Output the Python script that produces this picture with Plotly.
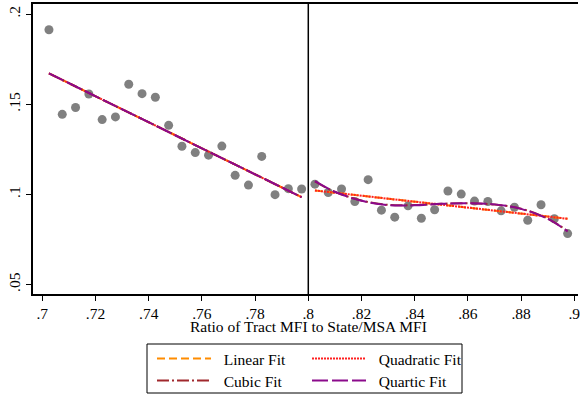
import plotly.graph_objects as go

# Bin centers (ratio of tract MFI to state/MSA MFI) and binned means
x_left = [0.7025, 0.7075, 0.7125, 0.7175, 0.7225, 0.7275, 0.7325, 0.7375, 0.7425, 0.7475,
          0.7525, 0.7575, 0.7625, 0.7675, 0.7725, 0.7775, 0.7825, 0.7875, 0.7925, 0.7975]
y_left = [0.1913, 0.1444, 0.1482, 0.1557, 0.1415, 0.1430, 0.1611, 0.1559, 0.1539, 0.1383,
          0.1267, 0.1232, 0.1218, 0.1268, 0.1106, 0.1052, 0.1211, 0.0999, 0.1032, 0.1030]
x_right = [0.8025, 0.8075, 0.8125, 0.8175, 0.8225, 0.8275, 0.8325, 0.8375, 0.8425, 0.8475,
           0.8525, 0.8575, 0.8625, 0.8675, 0.8725, 0.8775, 0.8825, 0.8875, 0.8925, 0.8975]
y_right = [0.1057, 0.1011, 0.1030, 0.0961, 0.1082, 0.0913, 0.0874, 0.0937, 0.0868, 0.0915,
           0.1019, 0.1002, 0.0963, 0.0961, 0.0909, 0.0929, 0.0857, 0.0943, 0.0865, 0.0783]

# Fitted values
fit_x_left = [0.7025, 0.7975]
linear_left = [0.1671, 0.0985]
quadratic_left = [0.1671, 0.0985]
cubic_left = [0.1671, 0.0985]
quartic_left = [0.1671, 0.0985]

fit_x_right_lin = [0.8025, 0.8975]
linear_right = [0.1022, 0.0865]
quadratic_right = [0.1022, 0.0865]

fit_x_right_poly = [0.8025, 0.81, 0.82, 0.83, 0.84, 0.85, 0.86, 0.87, 0.88, 0.89, 0.8975]
cubic_right = [0.1072, 0.1014, 0.0966, 0.0942, 0.0941, 0.0948, 0.0951, 0.0944, 0.0921, 0.0866, 0.0797]
quartic_right = [0.1074, 0.1015, 0.0965, 0.0941, 0.0940, 0.0948, 0.0951, 0.0945, 0.0920, 0.0865, 0.0795]

x_tickvals = [0.70, 0.72, 0.74, 0.76, 0.78, 0.80, 0.82, 0.84, 0.86, 0.88, 0.90]
x_ticktext = [".7", ".72", ".74", ".76", ".78", ".8", ".82", ".84", ".86", ".88", ".9"]
y_tickvals = [0.05, 0.10, 0.15, 0.20]
y_ticktext = [".05", ".1", ".15", ".2"]
x_title = "Ratio of Tract MFI to State/MSA MFI"

fit_names = ["Linear Fit", "Quadratic Fit", "Cubic Fit", "Quartic Fit"]
fit_colors = ["#FF8C00", "#FF2020", "#A0282D", "#8B0A8B"]
fit_dash = ["8px,4px", "2px,1px", "12px,3px,2px,3px", "16px,4px"]
fit_legend = ["legend", "legend", "legend2", "legend2"]

left_fits = [(fit_x_left, linear_left), (fit_x_left, quadratic_left),
             (fit_x_left, cubic_left), (fit_x_left, quartic_left)]
right_fits = [(fit_x_right_lin, linear_right), (fit_x_right_lin, quadratic_right),
              (fit_x_right_poly, cubic_right), (fit_x_right_poly, quartic_right)]

FONT = "Liberation Serif, Times New Roman, serif"
FS = 15.5

fig = go.Figure()

for xs, ys in [(x_left, y_left), (x_right, y_right)]:
    fig.add_trace(go.Scatter(x=xs, y=ys, mode="markers",
                             marker=dict(color="#808080", size=9),
                             showlegend=False, hoverinfo="skip"))

for side, fits in enumerate([left_fits, right_fits]):
    for (fx, fy), name, col, dash, lg in zip(fits, fit_names, fit_colors, fit_dash, fit_legend):
        fig.add_trace(go.Scatter(x=fx, y=fy, mode="lines", name="\u00a0\u00a0" + name,
                                 line=dict(color=col, width=2, dash=dash, shape="spline"),
                                 showlegend=(side == 0), legend=lg, hoverinfo="skip"))

# cutoff line
fig.add_shape(type="line", xref="x", yref="paper", x0=0.8, x1=0.8, y0=0, y1=1,
              line=dict(color="black", width=1.5))


def px_to_paper_x(px):
    return (px - 33) / 545.0


def px_to_paper_y(py):
    return (294 - py) / 290.0


# legend frame
fig.add_shape(type="rect", xref="paper", yref="paper",
              x0=px_to_paper_x(147), x1=px_to_paper_x(462),
              y0=px_to_paper_y(393), y1=px_to_paper_y(344),
              line=dict(color="black", width=1), fillcolor="white", layer="below")

# x-axis title
fig.add_annotation(text=x_title, xref="paper", yref="paper",
                   x=px_to_paper_x(308), y=px_to_paper_y(326),
                   xanchor="center", yanchor="middle", showarrow=False,
                   font=dict(family=FONT, size=FS, color="black"))

legend_common = dict(orientation="h", xanchor="left", yanchor="middle",
                     font=dict(family=FONT, size=FS, color="black"),
                     entrywidth=86, entrywidthmode="pixels", itemwidth=54,
                     bgcolor="rgba(0,0,0,0)", borderwidth=0, tracegroupgap=0)

fig.update_layout(
    width=580, height=396,
    margin=dict(l=33, r=2, t=4, b=102, autoexpand=False),
    paper_bgcolor="white", plot_bgcolor="white",
    font=dict(family=FONT, size=FS, color="black"),
    legend=dict(x=px_to_paper_x(152), y=px_to_paper_y(359), **legend_common),
    legend2=dict(x=px_to_paper_x(152), y=px_to_paper_y(381), **legend_common),
    xaxis=dict(range=[0.6965, 0.9014], tickvals=x_tickvals, ticktext=x_ticktext,
               ticks="outside", ticklen=5, tickcolor="black", showgrid=False, zeroline=False,
               showline=True, linecolor="black", linewidth=1.5, mirror=True,
               ticklabeloverflow="allow",
               tickfont=dict(family=FONT, size=FS)),
    yaxis=dict(range=[0.0448, 0.2056], tickvals=y_tickvals, ticktext=y_ticktext,
               ticks="outside", ticklen=5, tickcolor="black", showgrid=False, zeroline=False,
               showline=True, linecolor="black", linewidth=1.5,
               ticklabeloverflow="allow",
               tickangle=-90, tickfont=dict(family=FONT, size=FS)),
)

fig.write_html("out.html", config={"displayModeBar": False},
               post_script="document.body.style.margin='0';")
